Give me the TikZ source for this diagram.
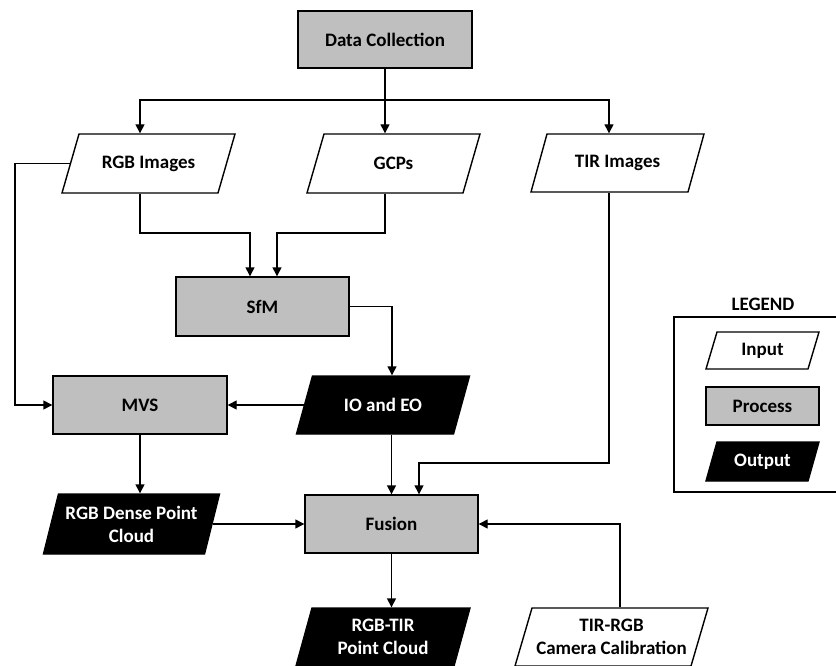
\documentclass[tikz,border=0pt]{standalone}
\usepackage{fontspec}
\setmainfont{Carlito}
\usetikzlibrary{arrows.meta}
\definecolor{procgray}{HTML}{BFBFBF}
% #1 name, #2 cx, #3 cy, #4 edge width, #5 height, #6 slant, #7 style, #8 text
\newcommand{\pgram}[8]{%
  \path[#7] ({#2-#4/2+#6/2},{#3-#5/2}) -- ({#2+#4/2+#6/2},{#3-#5/2}) -- ({#2+#4/2-#6/2},{#3+#5/2}) -- ({#2-#4/2-#6/2},{#3+#5/2}) -- cycle;
  \node[pnode, #7t, minimum width=#4, minimum height=#5] (#1) at (#2,#3) {#8};}
\begin{document}
\begin{tikzpicture}[x=1pt,y=-1pt, line width=1.4pt,
  font=\fontsize{19}{23}\selectfont\bfseries,
  proc/.style={draw, fill=procgray, inner sep=0pt, align=center},
  pnode/.style={inner sep=0pt, align=center},
  arr/.style={-{Triangle[length=9pt,width=9pt]}},
  inp/.style={draw, fill=white}, inpt/.style={text=black},
  outp/.style={draw, fill=black}, outpt/.style={text=white}]
\useasboundingbox (0,0) rectangle (836,666);
\clip (0,0) rectangle (836,666);

% main nodes
\node[proc, minimum width=174, minimum height=57] (dc) at (385,39.5) {Data Collection};
\pgram{rgb}{148.5}{163.5}{156}{59}{17}{inp}{RGB Images}
\pgram{gcp}{393.5}{163.5}{156}{59}{17}{inp}{GCPs}
\pgram{tir}{617.5}{163}{157}{58}{16}{inp}{TIR Images}
\node[proc, minimum width=173, minimum height=59] (sfm) at (262.5,306.5) {SfM};
\node[proc, minimum width=174, minimum height=58] (mvs) at (140,405) {MVS};
\pgram{ioeo}{383}{405}{157}{58}{16}{outp}{IO and EO}
\pgram{dense}{131.5}{524}{161}{60}{15}{outp}{RGB Dense Point\\Cloud}
\node[proc, minimum width=173, minimum height=58] (fusion) at (391.5,524) {Fusion};
\pgram{rgbtir}{383}{637}{158}{58}{16}{outp}{RGB-TIR\\Point Cloud}
\pgram{calib}{611.5}{637}{176}{58}{17}{inp}{TIR-RGB\\Camera Calibration}

% legend (box runs off the right edge)
\node (legtitle) at (763,304) {LEGEND};
\draw (840,317) -| (674,492) -- (840,492);
\pgram{lin}{762.5}{350.5}{102}{37}{11}{inp}{Input}
\node[proc, minimum width=113, minimum height=38] (lproc) at (762.5,406) {Process};
\pgram{lout}{762.5}{461.5}{102}{39}{11}{outp}{Output}

% connectors
\draw[arr] (dc.south) -- (dc.south |- gcp.north);
\draw[arr] (dc.south |- 0,100) -| (rgb.north -| 140,0);
\draw[arr] (dc.south |- 0,100) -| (tir.north -| 609,0);
\draw[arr] (rgb.west) -- (rgb.west -| 15,0) |- (mvs.west);
\draw[arr] (rgb.south -| 140,0) -- (140,233) -| (sfm.north -| 250,0);
\draw[arr] (gcp.south -| 385,0) -- (385,233) -| (sfm.north -| 277,0);
\draw[arr] (sfm.east) -| (ioeo.north -| 392,0);
\draw[arr] (ioeo.west) -- (mvs.east);
\draw[arr] (mvs.south) -- (mvs.south |- dense.north);
\draw[arr] (dense.east) -- (fusion.west);
\draw[arr] (ioeo.south -| fusion.north) -- (fusion.north);
\draw[arr] (tir.south -| 609,0) -- (609,463) -| (fusion.north -| 419,0);
\draw[arr] (fusion.south) -- (fusion.south |- rgbtir.north);
\draw[arr] (calib.north -| 620,0) |- (fusion.east);
\end{tikzpicture}
\end{document}
